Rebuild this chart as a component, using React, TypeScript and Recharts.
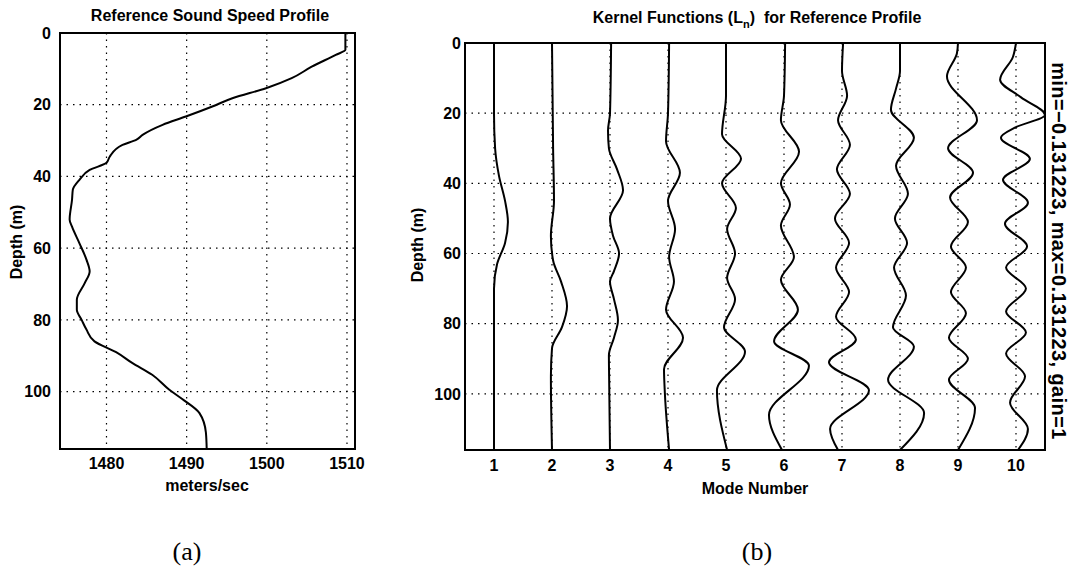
import React from 'react';
import { LineChart, Line, XAxis, YAxis, CartesianGrid, ReferenceArea } from 'recharts';

// reference sound speed profile (depth m, speed m/s)
const SSP_DEPTH = [0, 4.7, 6.1, 9.4, 12.6, 15.4, 18.2, 20.5, 23.3, 25.6, 28.4, 29.8, 31.2, 34.5, 36.2, 38.2, 41, 43.7, 46.5, 52, 54, 58.5, 63.2, 66.5, 69.7, 74.4, 77.2, 80, 82.7, 86, 89, 92, 95.3, 99.4, 102, 106, 111.4, 116];
const SSP_SPEED = [1509.8, 1509.8, 1508.6, 1505.6, 1503.1, 1499.9, 1495.7, 1493.2, 1489.9, 1487, 1484.5, 1483.7, 1482, 1480.4, 1480, 1477.9, 1476.6, 1475.8, 1475.7, 1475.4, 1475.7, 1476.6, 1477.5, 1477.9, 1477.3, 1476.3, 1476.3, 1476.9, 1477.5, 1478.5, 1481.2, 1483.2, 1485.7, 1487.8, 1489.4, 1491.6, 1492.4, 1492.5];

const SPEED_TICKS = [1480, 1490, 1500, 1510];
const DEPTH_TICKS = [0, 20, 40, 60, 80, 100];
const MODE_TICKS = [1, 2, 3, 4, 5, 6, 7, 8, 9, 10];

const KERNEL_MIN = -0.131223;
const KERNEL_MAX = 0.131223;
const GAIN = 1;

// kernel functions L_n, [depth, value]
const L1: [number, number][] = [[0, 0], [20, 0], [30, 0.005], [38, 0.023], [45, 0.05], [51, 0.063], [57, 0.05], [63, 0.014], [70, 0], [116, 0]];
const L2: [number, number][] = [[0, 0], [30, 0.005], [45, 0.009], [55, -0.005], [62, 0.005], [68, 0.041], [75, 0.068], [81, 0.045], [87, 0], [95, -0.005], [116, 0]];
const L3: [number, number][] = [[0, 0.005], [20, 0], [25, -0.009], [30, -0.005], [36, 0.032], [42, 0.059], [50, 0], [55, 0.014], [60, 0.041], [65, 0.018], [68, 0], [73, 0.018], [79, 0.036], [84, 0.018], [89, -0.005], [95, -0.004], [116, 0]];
const L4: [number, number][] = [[0, 0.005], [20, 0], [28, -0.009], [37, 0.054], [45, 0], [53, 0.032], [61, 0.005], [68, 0.027], [76, -0.009], [84, 0.068], [93, -0.018], [100, -0.014], [116, 0.005]];
const L5: [number, number][] = [[0, 0], [15, 0], [26, -0.018], [33, 0.068], [40, -0.018], [47, 0.045], [53, 0.005], [60, 0.041], [67, 0.005], [73, 0.041], [81, -0.009], [88, 0.086], [99, -0.041], [116, 0.005]];
const L6: [number, number][] = [[0, 0.005], [15, 0], [22, -0.014], [31, 0.068], [40, -0.014], [46, 0.027], [52, -0.014], [61, 0.045], [67.5, -0.014], [76, 0.063], [85, -0.045], [92, 0.113], [106, -0.068], [116, -0.009]];
const L7: [number, number][] = [[0, 0.005], [8, 0], [15, 0.023], [22, -0.018], [29, 0.036], [36, -0.023], [43, 0.036], [50, -0.032], [57, 0.032], [64, -0.027], [71, 0.032], [78, -0.027], [84.5, 0.063], [91, -0.059], [99, 0.122], [110, -0.054], [116, -0.018]];
const L8: [number, number][] = [[0, 0], [8, 0], [13, -0.018], [19, -0.041], [27, 0.063], [35, -0.018], [43, 0.036], [50, -0.023], [57, 0.032], [64, -0.027], [72, 0.027], [81, -0.032], [86.5, 0.063], [96, -0.054], [105.5, 0.109], [116, 0]];
const L9: [number, number][] = [[0, 0], [3, -0.005], [9.5, -0.05], [22, 0.086], [30, -0.045], [37, 0.068], [44, -0.036], [51, 0.045], [58, -0.032], [64, 0.036], [71, -0.032], [77, 0.036], [84, -0.041], [90, 0.045], [96, -0.041], [104, 0.077], [116, 0]];
const L10: [number, number][] = [[0, 0], [4, -0.014], [10.5, -0.072], [15.5, 0.023], [20.5, 0.131], [24, 0], [27, -0.068], [33, 0.063], [39, -0.059], [45.5, 0.054], [51.5, -0.05], [58, 0.05], [64, -0.045], [70, 0.045], [76.5, -0.045], [82.5, 0.045], [88.5, -0.045], [95, 0.041], [102.5, -0.027], [110, 0.054], [116, 0.009]];

const KERNELS = [L1, L2, L3, L4, L5, L6, L7, L8, L9, L10];

const sspData = SSP_DEPTH.map((depth, i) => ({ depth, speed: SSP_SPEED[i] }));
// each kernel is drawn around its mode number, max |L| spans half a mode
const kernelData = KERNELS.map((k, i) =>
  k.map(([depth, v]) => ({ depth, x: i + 1 + (GAIN * v * 0.5) / KERNEL_MAX }))
);

const FONT = '"Liberation Sans", Arial, Helvetica, sans-serif';
const tickStyle = { fill: '#000', fontSize: 16, fontWeight: 700, fontFamily: FONT };

function Txt({ cx, capTop, size = 16, children }: any) {
  return (
    <div
      style={{
        position: 'absolute',
        left: cx - 250,
        top: capTop - 0.13 * size,
        width: 500,
        textAlign: 'center',
        fontFamily: FONT,
        fontWeight: 700,
        fontSize: size,
        lineHeight: `${size}px`,
        whiteSpace: 'pre',
        color: '#000',
      }}
    >
      {children}
    </div>
  );
}

function RotTxt({ cx, cy, size = 16, angle, children, style }: any) {
  return (
    <div
      style={{
        position: 'absolute',
        left: cx - 250,
        top: cy - size / 2,
        width: 500,
        height: size,
        textAlign: 'center',
        fontFamily: FONT,
        fontWeight: 700,
        fontSize: size,
        lineHeight: `${size}px`,
        whiteSpace: 'pre',
        color: '#000',
        transform: `rotate(${angle}deg)`,
        ...style,
      }}
    >
      {children}
    </div>
  );
}

export default function App() {
  return (
    <div style={{ position: 'absolute', left: 0, top: 0, width: 1070, height: 575, background: '#fff', overflow: 'hidden' }}>
      {/* (a) sound speed profile */}
      <div style={{ position: 'absolute', left: 0, top: 0 }}>
        <LineChart
          layout="vertical"
          width={380}
          height={575}
          data={sspData}
          margin={{ top: 33, right: 25, bottom: 86, left: 0 }}
        >
          <CartesianGrid stroke="#000" strokeDasharray="1.5 5" strokeWidth={1.2} />
          <XAxis
            type="number"
            domain={[1474.2, 1511]}
            ticks={SPEED_TICKS}
            allowDataOverflow
            height={40}
            axisLine={false}
            tickLine={false}
            tickSize={5}
            tickMargin={4}
            tick={tickStyle}
          />
          <YAxis
            type="number"
            dataKey="depth"
            domain={[0, 116]}
            ticks={DEPTH_TICKS}
            allowDataOverflow
            width={60}
            axisLine={false}
            tickLine={false}
            tickSize={6}
            tickMargin={3}
            tick={tickStyle}
          />
          <ReferenceArea x1={1474.2} x2={1511} y1={0} y2={116} fill="none" stroke="#000" strokeWidth={2} ifOverflow="visible" />
          <Line
            dataKey="speed"
            type="monotone"
            stroke="#000"
            strokeWidth={2}
            dot={false}
            isAnimationActive={false}
          />
        </LineChart>
      </div>

      {/* (b) kernel functions */}
      <div style={{ position: 'absolute', left: 380, top: 0 }}>
        <LineChart
          layout="vertical"
          width={690}
          height={575}
          margin={{ top: 43, right: 25, bottom: 85, left: 0 }}
        >
          <CartesianGrid stroke="#000" strokeDasharray="1.5 5" strokeWidth={1.2} />
          <XAxis
            type="number"
            domain={[0.5, 10.5]}
            ticks={MODE_TICKS}
            allowDataOverflow
            height={40}
            axisLine={false}
            tickLine={false}
            tickSize={5}
            tickMargin={5}
            tick={tickStyle}
          />
          <YAxis
            type="number"
            dataKey="depth"
            domain={[0, 116]}
            ticks={DEPTH_TICKS}
            allowDataOverflow
            width={85}
            axisLine={false}
            tickLine={false}
            tickSize={2}
            tickMargin={2}
            tick={tickStyle}
          />
          <ReferenceArea x1={0.5} x2={10.5} y1={0} y2={116} fill="none" stroke="#000" strokeWidth={2} ifOverflow="visible" />
          {kernelData.map((d, i) => (
            <Line
              key={i}
              data={d}
              dataKey="x"
              type="monotone"
              stroke="#000"
              strokeWidth={2}
              dot={false}
              isAnimationActive={false}
            />
          ))}
        </LineChart>
      </div>

      {/* titles and axis labels */}
      <Txt cx={210} capTop={10}>Reference Sound Speed Profile</Txt>
      <Txt cx={757} capTop={12}>
        Kernel Functions (L
        <span style={{ fontSize: 11, position: 'relative', top: 5 }}>n</span>
        {')  for Reference Profile'}
      </Txt>
      <Txt cx={207} capTop={480}>meters/sec</Txt>
      <Txt cx={755} capTop={483}>Mode Number</Txt>

      <RotTxt cx={17} cy={242} angle={-90}>Depth (m)</RotTxt>
      <RotTxt cx={418} cy={245} angle={-90}>Depth (m)</RotTxt>
      <RotTxt cx={1059} cy={251} size={20} angle={90} style={{ letterSpacing: 0.4 }}>
        {`min=\u2212${Math.abs(KERNEL_MIN)}, max=${KERNEL_MAX}, gain=${GAIN}`}
      </RotTxt>

      <div style={{ position: 'absolute', left: 137, top: 537, width: 100, textAlign: 'center', fontFamily: '"Liberation Serif", "DejaVu Serif", serif', fontSize: 26, lineHeight: '30px' }}>(a)</div>
      <div style={{ position: 'absolute', left: 707, top: 537, width: 100, textAlign: 'center', fontFamily: '"Liberation Serif", "DejaVu Serif", serif', fontSize: 26, lineHeight: '30px' }}>(b)</div>
    </div>
  );
}
